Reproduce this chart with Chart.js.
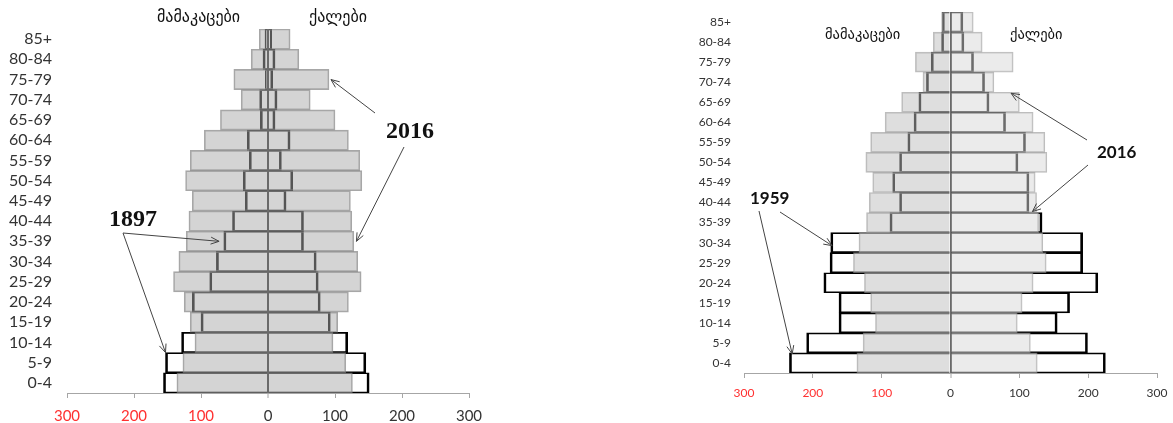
<!DOCTYPE html>
<html>
<head>
<meta charset="utf-8">
<script src="https://cdn.jsdelivr.net/npm/chart.js@4"></script>
<style>
html, body { margin: 0; padding: 0; background: #fff; }
body { width: 1173px; height: 423px; position: relative; overflow: hidden; }
.box { position: absolute; top: 0; height: 423px; }
#left-box { left: 0; width: 490px; }
#right-box { left: 690px; width: 483px; }
</style>
</head>
<body>
<div class="box" id="left-box"><canvas id="leftChart" width="490" height="423"></canvas></div>
<div class="box" id="right-box"><canvas id="rightChart" width="483" height="423"></canvas></div>
<script>
// age groups, youngest first (thousands of people)
const ageGroups = ['0-4', '5-9', '10-14', '15-19', '20-24', '25-29', '30-34', '35-39', '40-44',
    '45-49', '50-54', '55-59', '60-64', '65-69', '70-74', '75-79', '80-84', '85+'];

const men2016 = [136, 127, 109, 116, 125, 141, 133, 122, 118, 113, 123, 116, 95, 71, 40, 51, 25, 13];
const women2016 = [126, 116, 97, 104, 120, 139, 134, 128, 125, 123, 140, 137, 120, 100, 63, 91, 46, 33];

const men1897 = [156, 153, 129, 100, 113, 87, 77, 66, 53, 34, 37, 28, 31, 11.5, 12.5, 4, 7.5, 4.5];
const women1897 = [151, 146, 119, 93, 78, 75, 72, 53, 53, 27, 37, 20, 33, 10.5, 13.5, 7, 10.5, 5.5];

const men1959 = [234, 209, 162, 162, 184, 175, 174, 88, 74, 84, 74, 62, 53, 46, 35, 28, 13, 12];
const women1959 = [225, 199, 155, 173, 214, 192, 192, 133, 114, 114, 98, 109, 80, 56, 49.5, 33.5, 19.5, 18];

const xTicks = [-300, -200, -100, 0, 100, 200, 300];

const menTitle = 'მამაკაცები';
const womenTitle = 'ქალები';

function drawArrow(ctx, x1, y1, x2, y2) {
    var ang = Math.atan2(y2 - y1, x2 - x1);
    var len = 9;
    ctx.beginPath();
    ctx.moveTo(x1, y1);
    ctx.lineTo(x2, y2);
    ctx.moveTo(x2 - len * Math.cos(ang - 0.4), y2 - len * Math.sin(ang - 0.4));
    ctx.lineTo(x2, y2);
    ctx.lineTo(x2 - len * Math.cos(ang + 0.4), y2 - len * Math.sin(ang + 0.4));
    ctx.stroke();
}

// titles, year labels and arrows pointing at the bars
function notesPlugin(notes, offset) {
    return {
        id: 'notes',
        afterDraw: function(chart) {
            var ctx = chart.ctx;
            var xs = chart.scales.x, ys = chart.scales.y;
            var row = Math.abs(ys.getPixelForValue(0) - ys.getPixelForValue(1));
            ctx.save();
            ctx.textBaseline = 'middle';
            ctx.fillStyle = '#111';
            notes.titles.forEach(function(t) {
                ctx.font = t.font;
                ctx.textAlign = 'left';
                ctx.fillText(t.text, t.x - offset, t.y);
            });
            ctx.strokeStyle = '#444';
            ctx.lineWidth = 1;
            notes.labels.forEach(function(l) {
                ctx.font = l.font;
                ctx.textAlign = 'left';
                ctx.fillText(l.text, l.x - offset, l.y);
                l.arrows.forEach(function(a) {
                    var tx = xs.getPixelForValue(a.value);
                    var ty = ys.getPixelForValue(ageGroups.indexOf(a.age)) + a.dy * row;
                    drawArrow(ctx, a.from[0] - offset, a.from[1], tx, ty);
                });
            });
            ctx.restore();
        }
    };
}

function at(arr, age) {
    return arr[ageGroups.indexOf(age)];
}

function neg(arr) {
    return arr.map(function(v) { return -v; });
}

function makePyramid(id, o) {
    var oldBorder = { top: 1, bottom: 1, left: 2, right: 2 };
    return new Chart(document.getElementById(id), {
        type: 'bar',
        data: {
            labels: ageGroups,
            datasets: [{
                label: 'men 2016',
                data: neg(men2016),
                backgroundColor: o.menFill,
                borderColor: o.newBorder,
                borderWidth: 1,
                order: 1
            }, {
                label: 'women 2016',
                data: women2016,
                backgroundColor: o.womenFill,
                borderColor: o.newBorder,
                borderWidth: 1,
                order: 1
            }, {
                label: 'men ' + o.oldYear,
                data: neg(o.oldMen),
                backgroundColor: 'rgba(255,255,255,0)',
                borderColor: '#000',
                borderWidth: oldBorder,
                order: 2
            }, {
                label: 'women ' + o.oldYear,
                data: o.oldWomen,
                backgroundColor: 'rgba(255,255,255,0)',
                borderColor: '#000',
                borderWidth: oldBorder,
                order: 2
            }]
        },
        options: {
            indexAxis: 'y',
            responsive: false,
            animation: false,
            layout: { padding: { top: o.top, right: o.padRight, bottom: o.padBottom, left: 0 } },
            plugins: { legend: { display: false }, tooltip: { enabled: false } },
            datasets: {
                bar: { grouped: false, categoryPercentage: 1, barPercentage: 1, borderSkipped: 'start' }
            },
            scales: {
                x: {
                    z: 1,
                    min: xTicks[0],
                    max: xTicks[xTicks.length - 1],
                    afterBuildTicks: function(s) { s.ticks = xTicks.map(function(v) { return { value: v }; }); },
                    ticks: {
                        callback: function(v) { return Math.abs(v); },
                        color: function(c) { return c.tick && c.tick.value < 0 ? '#ff3030' : '#333'; },
                        font: { family: 'Lato', size: o.xFont },
                        padding: o.xPad,
                        maxRotation: 0
                    },
                    grid: {
                        color: function(c) { return c.tick && c.tick.value === 0 ? '#6a6a6a' : 'rgba(0,0,0,0)'; },
                        lineWidth: function(c) { return c.tick && c.tick.value === 0 ? 2 : 1; },
                        tickColor: '#a6a6a6',
                        tickWidth: 1,
                        tickLength: 5
                    },
                    border: { color: '#a6a6a6' },
                    afterFit: function(s) { s.height = 30; s.paddingLeft = 0; s.paddingRight = 0; }
                },
                y: {
                    reverse: true,
                    ticks: { color: '#333', font: { family: 'Lato', size: o.yFont }, padding: o.yPad, autoSkip: false },
                    grid: { display: false, drawTicks: false },
                    border: { display: false },
                    afterFit: function(s) { s.width = o.yWidth; s.paddingTop = 0; s.paddingBottom = 0; }
                }
            }
        },
        plugins: [notesPlugin(o.notes, o.offset)]
    });
}

makePyramid('leftChart', {
    oldYear: 1897, oldMen: men1897, oldWomen: women1897,
    menFill: 'rgba(170,170,170,0.5)', womenFill: 'rgba(170,170,170,0.5)', newBorder: 'rgba(125,125,125,0.68)',
    top: 29, padRight: 21, padBottom: 0, yWidth: 67, yPad: 15, yFont: 16, xFont: 15, xPad: 9,
    offset: 0,
    notes: {
        titles: [
            { text: menTitle, x: 157, y: 18, font: '16px "DejaVu Sans"' },
            { text: womenTitle, x: 309, y: 18, font: '16px "DejaVu Sans"' }
        ],
        labels: [{
            text: '2016', x: 386, y: 132, font: 'bold 24px "Liberation Serif"',
            arrows: [
                { from: [375, 113], value: at(women2016, '75-79') + 3, age: '75-79', dy: 0 },
                { from: [404, 147], value: at(women2016, '35-39') + 4, age: '35-39', dy: 0 }
            ]
        }, {
            text: '1897', x: 109, y: 220, font: 'bold 24px "Liberation Serif"',
            arrows: [
                { from: [123, 233], value: -at(men1897, '35-39') - 7, age: '35-39', dy: 0 },
                { from: [123, 233], value: -at(men1897, '5-9'), age: '5-9', dy: -0.5 }
            ]
        }]
    }
});

makePyramid('rightChart', {
    oldYear: 1959, oldMen: men1959, oldWomen: women1959,
    menFill: 'rgba(189,189,189,0.5)', womenFill: 'rgba(215,215,215,0.5)', newBorder: 'rgba(150,150,150,0.63)',
    top: 12, padRight: 16, padBottom: 20, yWidth: 54, yPad: 13, yFont: 12, xFont: 12, xPad: 8,
    offset: 690,
    notes: {
        titles: [
            { text: menTitle, x: 825, y: 35, font: '14.5px "DejaVu Sans"' },
            { text: womenTitle, x: 1010, y: 35, font: '14.5px "DejaVu Sans"' }
        ],
        labels: [{
            text: '2016', x: 1097, y: 153, font: 'bold 17px Lato',
            arrows: [
                { from: [1087, 140], value: at(women2016, '65-69') - 12, age: '65-69', dy: -0.45 },
                { from: [1088, 165], value: at(women2016, '40-44') - 6, age: '40-44', dy: 0.45 }
            ]
        }, {
            text: '1959', x: 750, y: 199, font: 'bold 17px Lato',
            arrows: [
                { from: [780, 212], value: -at(men1959, '30-34') + 2, age: '30-34', dy: 0.15 },
                { from: [759, 211], value: -at(men1959, '0-4') + 4, age: '0-4', dy: -0.45 }
            ]
        }]
    }
});
</script>
</body>
</html>
